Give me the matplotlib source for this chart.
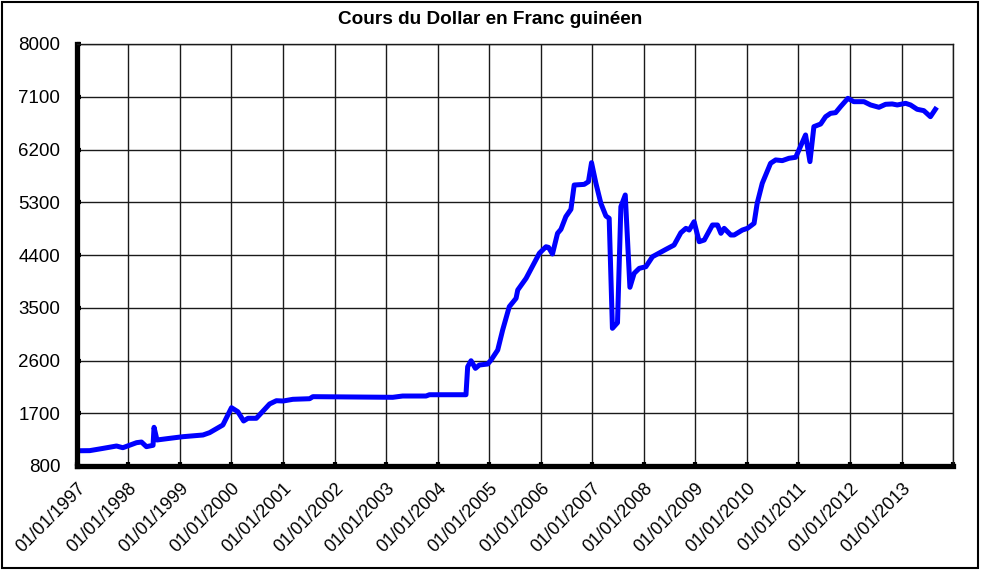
import numpy as np
import pandas as pd
import matplotlib
matplotlib.use('Agg')
import matplotlib.pyplot as plt
import matplotlib.dates as mdates
from matplotlib.patches import Rectangle

plt.rcParams['font.family'] = ['Liberation Sans', 'DejaVu Sans']

# valeurs (cours USD -> GNF)
dates = [
    '1997-01-01', '1997-04-01', '1997-07-03', '1997-10-08', '1997-11-22',
    '1998-02-27', '1998-04-03', '1998-05-08', '1998-06-24', '1998-07-01',
    '1998-07-22', '1998-10-20', '1999-01-22', '1999-06-13', '1999-07-30',
    '1999-11-01', '2000-01-01', '2000-02-15', '2000-03-27', '2000-04-27',
    '2000-06-25', '2000-08-23', '2000-09-27', '2000-11-14', '2001-01-01',
    '2001-03-11', '2001-07-08', '2001-07-31', '2003-02-17', '2003-04-28',
    '2003-10-11', '2003-11-04', '2004-07-20', '2004-08-01', '2004-08-25',
    '2004-09-25', '2004-10-23', '2004-12-21', '2005-01-14', '2005-03-02',
    '2005-04-06', '2005-05-23', '2005-07-10', '2005-07-22', '2005-09-19',
    '2005-12-22', '2006-02-07', '2006-02-25', '2006-03-25', '2006-04-30',
    '2006-05-24', '2006-06-28', '2006-08-03', '2006-08-26', '2006-11-05',
    '2006-12-05', '2006-12-27', '2007-01-27', '2007-03-03', '2007-04-08',
    '2007-05-01', '2007-05-24', '2007-06-29', '2007-07-23', '2007-08-23',
    '2007-09-25', '2007-10-25', '2007-11-30', '2008-01-16', '2008-03-03',
    '2008-06-06', '2008-08-03', '2008-09-20', '2008-10-26', '2008-11-18',
    '2008-12-23', '2009-01-28', '2009-03-05', '2009-05-02', '2009-06-07',
    '2009-07-01', '2009-07-24', '2009-09-09', '2009-10-03', '2009-11-30',
    '2010-01-05', '2010-02-21', '2010-03-15', '2010-04-20', '2010-06-18',
    '2010-07-24', '2010-09-09', '2010-10-26', '2010-12-13', '2011-01-05',
    '2011-02-21', '2011-03-24', '2011-04-21', '2011-06-08', '2011-07-13',
    '2011-08-17', '2011-09-22', '2011-10-27', '2011-12-18', '2012-01-29',
    '2012-04-10', '2012-05-27', '2012-07-25', '2012-09-10', '2012-10-27',
    '2012-12-02', '2013-01-30', '2013-03-06', '2013-04-22', '2013-06-08',
    '2013-07-25', '2013-08-29',
]
cours = [
    1060, 1062, 1100, 1141, 1112,
    1198, 1209, 1130, 1153, 1460,
    1244, 1272, 1300, 1329, 1369,
    1500, 1795, 1726, 1568, 1614,
    1614, 1767, 1858, 1914, 1909,
    1938, 1948, 1983, 1972, 1994,
    1994, 2016, 2016, 2494, 2596,
    2466, 2523, 2540, 2608, 2779,
    3120, 3518, 3661, 3803, 4002,
    4429, 4541, 4530, 4417, 4770,
    4838, 5055, 5180, 5594, 5605,
    5651, 5975, 5623, 5282, 5065,
    5026, 3149, 3245, 5225, 5424,
    3849, 4087, 4172, 4200, 4371,
    4496, 4570, 4780, 4855, 4826,
    4968, 4627, 4656, 4912, 4912,
    4770, 4855, 4741, 4741, 4826,
    4855, 4940, 5282, 5623, 5965,
    6022, 6010, 6050, 6067, 6192,
    6448, 5993, 6590, 6635, 6760,
    6817, 6829, 6931, 7073, 7016,
    7016, 6960, 6920, 6971, 6977,
    6960, 6988, 6960, 6886, 6863,
    6760, 6886,
]

annees = list(range(1997, 2015))
y_ticks = list(range(800, 8001, 900))

x = pd.to_datetime(dates)

fig = plt.figure(figsize=(9.81, 5.70), dpi=100)
ax = fig.add_axes([77 / 981, 104 / 570, 876 / 981, 422 / 570])

ax.plot(x, cours, color='#0000ff', lw=3.6, solid_joinstyle='round')

tick_dates = pd.to_datetime(['%d-01-01' % a for a in annees])
ax.set_xlim(tick_dates[0], tick_dates[-1])
ax.set_ylim(800, 8000)
ax.set_xticks(tick_dates)
ax.set_xticklabels(['01/01/%d' % a for a in annees[:-1]] + [''],
                   rotation=45, ha='right', rotation_mode='anchor', fontsize=13)
ax.set_yticks(y_ticks)
ax.set_yticklabels([str(v) for v in y_ticks], fontsize=13.5)

ax.grid(True, color='#1a1a1a', lw=1.0)
ax.set_axisbelow(True)
for s in ['left', 'bottom']:
    ax.spines[s].set_linewidth(3.8)
    ax.spines[s].set_color('black')
for s in ['top', 'right']:
    ax.spines[s].set_linewidth(1.0)
    ax.spines[s].set_color('#1a1a1a')
ax.tick_params(axis='both', direction='in', length=3, width=3, colors='black')
ax.tick_params(axis='y', pad=12)
ax.tick_params(axis='x', pad=10)

fig.text(0.5, 1 - 19 / 570, 'Cours du Dollar en Franc guinéen', ha='center', va='center',
         fontsize=13.7, fontweight='bold')

fig.patches.append(Rectangle((0.002, 0.003), 0.995, 0.993, transform=fig.transFigure,
                             fill=False, edgecolor='black', lw=1.5))

fig.savefig('out.png', dpi=100)
